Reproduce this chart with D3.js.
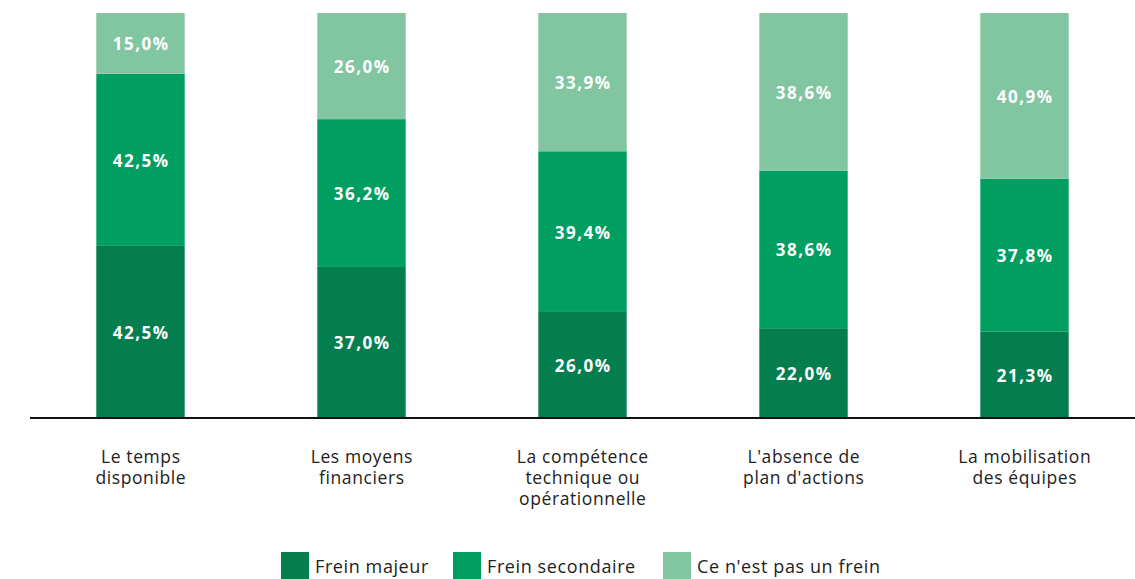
<!DOCTYPE html>
<html><head><meta charset="utf-8">
<script src="https://cdn.jsdelivr.net/npm/d3@7"></script>
<style>body{margin:0;background:#fff}svg{display:block}</style>
</head><body>
<svg id="c" width="1135" height="579"></svg>
<script>
const categories = [["Le temps","disponible"],["Les moyens","financiers"],["La compétence","technique ou","opérationnelle"],["L'absence de","plan d'actions"],["La mobilisation","des équipes"]];
const seriesNames = ["Frein majeur","Frein secondaire","Ce n'est pas un frein"];
const freinMajeur = [42.5, 37.0, 26.0, 22.0, 21.3];
const freinSecondaire = [42.5, 36.2, 39.4, 38.6, 37.8];
const pasUnFrein = [15.0, 26.0, 33.9, 38.6, 40.9];
const colors = ["#047e4e","#009e61","#82c5a1"];

const svg = d3.select("#c");
const rows = categories.map((c,i)=>({key:i, s0:freinMajeur[i], s1:freinSecondaire[i], s2:pasUnFrein[i]}));
const stack = d3.stack().keys(["s0","s1","s2"]).offset(d3.stackOffsetExpand);
const series = stack(rows);
const x = d3.scaleBand().domain(d3.range(categories.length)).range([30,1135]).paddingInner(0.6).paddingOuter(0.3);
const y = d3.scaleLinear().domain([0,1]).range([418,13]);
const raw = [freinMajeur, freinSecondaire, pasUnFrein];
const fmt = v => v.toFixed(1).replace(".", ",") + "%";
const font = "'Open Sans', sans-serif";

series.forEach((s,si)=>{
  const g = svg.append("g");
  g.selectAll("rect").data(s).join("rect")
    .attr("x",(d,i)=>x(i)).attr("width",x.bandwidth())
    .attr("y",d=>y(d[1])).attr("height",d=>y(d[0])-y(d[1]))
    .attr("fill",colors[si]);
  g.selectAll("text").data(s).join("text")
    .attr("x",(d,i)=>x(i)+x.bandwidth()/2+0.75)
    .attr("y",d=>(y(d[0])+y(d[1]))/2+1)
    .attr("dy","0.35em").attr("text-anchor","middle")
    .attr("fill","#fff").attr("font-family",font)
    .attr("font-weight","bold").attr("font-size","17px").attr("letter-spacing","1.5px")
    .text((d,i)=>fmt(raw[si][i]));
});

svg.append("line").attr("x1",30).attr("x2",1135).attr("y1",418).attr("y2",418)
  .attr("stroke","#111").attr("stroke-width",2.2);

const lab = svg.append("g");
categories.forEach((c,i)=>{
  const t = lab.append("text").attr("text-anchor","middle")
    .attr("font-family",font).attr("font-size","17.5px").attr("letter-spacing","0.6px").attr("fill","#222");
  c.forEach((line,j)=>{
    t.append("tspan").attr("x",x(i)+x.bandwidth()/2+0.3).attr("y",463+j*21).text(line);
  });
});

const legendX = [281, 453, 663];
const lg = svg.append("g");
seriesNames.forEach((n,i)=>{
  lg.append("rect").attr("x",legendX[i]).attr("y",552).attr("width",28).attr("height",27).attr("fill",colors[i]);
  lg.append("text").attr("x",legendX[i]+34).attr("y",573)
    .attr("font-family",font).attr("font-size","18px").attr("letter-spacing","0.6px").attr("fill","#222").text(n);
});
</script>
</body></html>
